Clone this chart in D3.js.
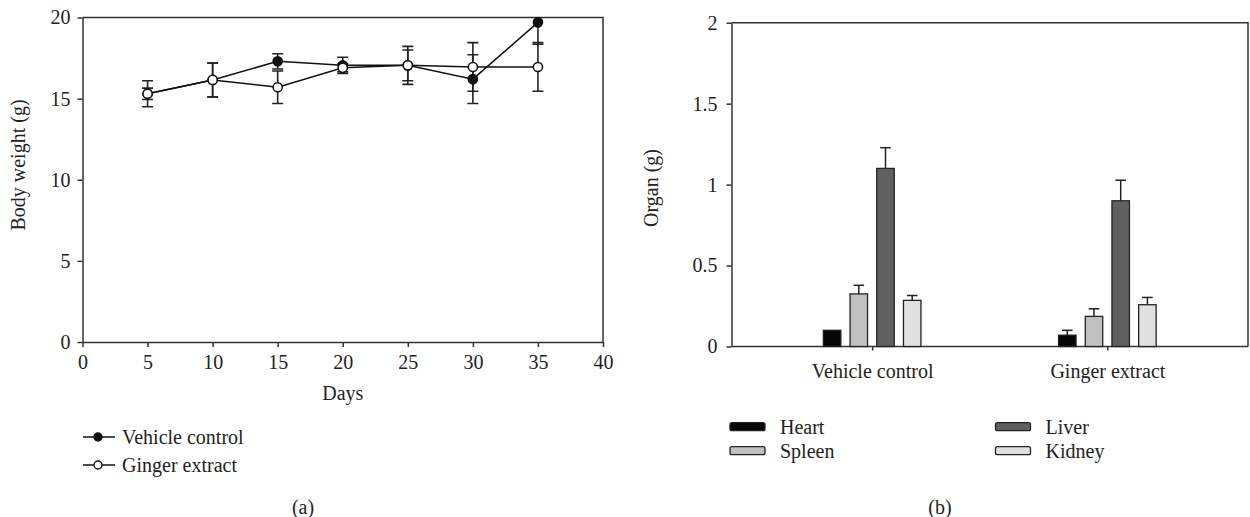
<!DOCTYPE html>
<html>
<head>
<meta charset="utf-8">
<script src="https://cdn.jsdelivr.net/npm/d3@7"></script>
<style>
  body { margin: 0; background: #fff; }
  svg text { font-family: "Liberation Serif", "DejaVu Serif", serif; fill: #222; }
  .axis path, .axis line { stroke: #333; stroke-width: 1.5px; }
  .axis text { font-size: 20px; }
</style>
</head>
<body>
<svg id="chart" width="1250" height="517"></svg>
<script>
// panel (a) data: body weight by day
var days = [5, 10, 15, 20, 25, 30, 35];
var vehicleMean = [15.3, 16.15, 17.3, 17.05, 17.05, 16.2, 19.7];
var vehicleErr = [0.8, 1.05, 0.47, 0.5, 1.17, 1.5, 1.35];
var gingerMean = [15.3, 16.15, 15.7, 16.9, 17.05, 16.95, 16.95];
var gingerErr = [0.35, 1.05, 1.0, 0.25, 0.95, 1.5, 1.5];
var dayTicks = [0, 5, 10, 15, 20, 25, 30, 35, 40];
var weightTicks = [0, 5, 10, 15, 20];

// panel (b) data: organ weights
var groups = ["Vehicle control", "Ginger extract"];
var organs = ["Heart", "Spleen", "Liver", "Kidney"];
var organColors = ["#060606", "#c0c0c0", "#5f605f", "#e0e0e0"];
var vehicleOrgan = [0.10, 0.325, 1.10, 0.285];
var vehicleOrganErr = [0, 0.053, 0.128, 0.03];
var gingerOrgan = [0.07, 0.186, 0.90, 0.258];
var gingerOrganErr = [0.03, 0.047, 0.127, 0.045];
var organTicks = [0, 0.5, 1, 1.5, 2];

var svg = d3.select("#chart");

//---------- (a) line plot ----------
var xA = d3.scaleLinear().domain([0, 40]).range([82.5, 603]);
var yA = d3.scaleLinear().domain([0, 20]).range([342, 17.5]);

svg.append("g").attr("class", "axis")
    .attr("transform", "translate(0," + yA(0) + ")")
    .call(d3.axisBottom(xA).tickValues(dayTicks).tickSizeInner(5).tickSizeOuter(0).tickPadding(5))
    .call(function(g){ g.selectAll("text").attr("dy", "0.85em"); });
svg.append("g").attr("class", "axis")
    .attr("transform", "translate(" + xA(0) + ",0)")
    .call(d3.axisLeft(yA).tickValues(weightTicks).tickSizeInner(5).tickSizeOuter(0).tickPadding(7));

// frame top/right
svg.append("path")
    .attr("d", "M" + xA(0) + "," + yA(20) + "H" + xA(40) + "V" + yA(0))
    .attr("fill", "none").attr("stroke", "#333").attr("stroke-width", 1.5);

svg.append("text").attr("x", (xA(0) + xA(40)) / 2).attr("y", 400)
    .attr("text-anchor", "middle").style("font-size", "20px").text("Days");
svg.append("text").attr("transform", "translate(25," + 165 + ") rotate(-90)")
    .attr("text-anchor", "middle").style("font-size", "20px").text("Body weight (g)");

svg.append("clipPath").attr("id", "clipA").append("rect")
    .attr("x", xA(0)).attr("y", yA(20)).attr("width", xA(40) - xA(0)).attr("height", yA(0) - yA(20));

var seriesA = [
    {name: "Vehicle control", mean: vehicleMean, err: vehicleErr, fill: "#111"},
    {name: "Ginger extract", mean: gingerMean, err: gingerErr, fill: "#fff"}
];

var line = d3.line()
    .x(function(d, i){ return xA(days[i]); })
    .y(function(d){ return yA(d); });

var errG = svg.append("g").attr("clip-path", "url(#clipA)")
    .attr("stroke", "#222").attr("stroke-width", 1.6);
seriesA.forEach(function(s){
    days.forEach(function(dv, i){
        var x = xA(dv), hi = yA(s.mean[i] + s.err[i]), lo = yA(s.mean[i] - s.err[i]);
        errG.append("line").attr("x1", x).attr("x2", x).attr("y1", hi).attr("y2", lo);
        errG.append("line").attr("x1", x - 5.5).attr("x2", x + 5.5).attr("y1", hi).attr("y2", hi);
        errG.append("line").attr("x1", x - 5.5).attr("x2", x + 5.5).attr("y1", lo).attr("y2", lo);
    });
});

seriesA.forEach(function(s){
    svg.append("path").attr("d", line(s.mean))
        .attr("fill", "none").attr("stroke", "#111").attr("stroke-width", 1.5);
});
seriesA.forEach(function(s){
    svg.append("g").selectAll("circle").data(s.mean).enter().append("circle")
        .attr("cx", function(d, i){ return xA(days[i]); })
        .attr("cy", function(d){ return yA(d); })
        .attr("r", 4.6)
        .attr("fill", s.fill).attr("stroke", "#111").attr("stroke-width", 1.5);
});

// legend (a)
seriesA.forEach(function(s, i){
    var y = 437 + i * 28;
    svg.append("line").attr("x1", 83).attr("x2", 115).attr("y1", y).attr("y2", y)
        .attr("stroke", "#111").attr("stroke-width", 1.5);
    svg.append("circle").attr("cx", 98).attr("cy", y).attr("r", 4)
        .attr("fill", s.fill).attr("stroke", "#111").attr("stroke-width", 1.4);
    svg.append("text").attr("x", 122).attr("y", y).attr("dy", "0.35em")
        .style("font-size", "20px").text(s.name);
});
svg.append("text").attr("x", 303).attr("y", 507).attr("dy", "0.35em")
    .attr("text-anchor", "middle").style("font-size", "20px").text("(a)");

//---------- (b) bar chart ----------
var yB = d3.scaleLinear().domain([0, 2]).range([346.5, 22.7]);
var xB = d3.scalePoint().domain(groups).range([731.5, 1248]).padding(0.598);
var xInner = d3.scaleBand().domain(organs).range([-53.4, 53.4]).paddingInner(0.345).paddingOuter(0.1725);

svg.append("g").attr("class", "axis")
    .attr("transform", "translate(" + 731.5 + ",0)")
    .call(d3.axisLeft(yB).tickValues(organTicks).tickFormat(d3.format("")).tickSizeInner(5).tickSizeOuter(0).tickPadding(9));
svg.append("g").attr("class", "axis")
    .attr("transform", "translate(0," + yB(0) + ")")
    .call(d3.axisBottom(xB).tickSizeInner(4).tickSizeOuter(0).tickPadding(10))
    .call(function(g){ g.select(".domain").attr("d", "M731.5,0H1248"); g.selectAll("text").attr("dy", "0.85em"); });
svg.append("path")
    .attr("d", "M731.5," + yB(2) + "H1248V" + yB(0))
    .attr("fill", "none").attr("stroke", "#333").attr("stroke-width", 1.5);

svg.append("text").attr("transform", "translate(658," + 188 + ") rotate(-90)")
    .attr("text-anchor", "middle").style("font-size", "20px").text("Organ (g)");

var groupData = [
    {name: groups[0], vals: vehicleOrgan, errs: vehicleOrganErr},
    {name: groups[1], vals: gingerOrgan, errs: gingerOrganErr}
];

groupData.forEach(function(g){
    var cx = xB(g.name);
    organs.forEach(function(o, i){
        var x0 = cx + xInner(o), bw = xInner.bandwidth();
        if (g.errs[i] > 0) {
            var xm = x0 + bw / 2, top = yB(g.vals[i] + g.errs[i]);
            svg.append("line").attr("x1", xm).attr("x2", xm).attr("y1", yB(g.vals[i])).attr("y2", top)
                .attr("stroke", "#222").attr("stroke-width", 1.5);
            svg.append("line").attr("x1", xm - 5.3).attr("x2", xm + 5.3).attr("y1", top).attr("y2", top)
                .attr("stroke", "#222").attr("stroke-width", 1.5);
        }
        svg.append("rect")
            .attr("x", x0).attr("y", yB(g.vals[i]))
            .attr("width", bw).attr("height", yB(0) - yB(g.vals[i]))
            .attr("fill", organColors[i]).attr("stroke", "#222").attr("stroke-width", 1.3);
    });
});

// legend (b)
organs.forEach(function(o, i){
    var col = Math.floor(i / 2), row = i % 2;
    var sx = col === 0 ? 730 : 995.5;
    var y = 426.7 + row * 24;
    svg.append("rect").attr("x", sx).attr("y", y - 4).attr("width", 35).attr("height", 8)
        .attr("rx", 2).attr("fill", organColors[i]).attr("stroke", "#222").attr("stroke-width", 1.3);
    svg.append("text").attr("x", sx + 50).attr("y", y).attr("dy", "0.35em")
        .style("font-size", "20px").text(o);
});
svg.append("text").attr("x", 940).attr("y", 507).attr("dy", "0.35em")
    .attr("text-anchor", "middle").style("font-size", "20px").text("(b)");
</script>
</body>
</html>
